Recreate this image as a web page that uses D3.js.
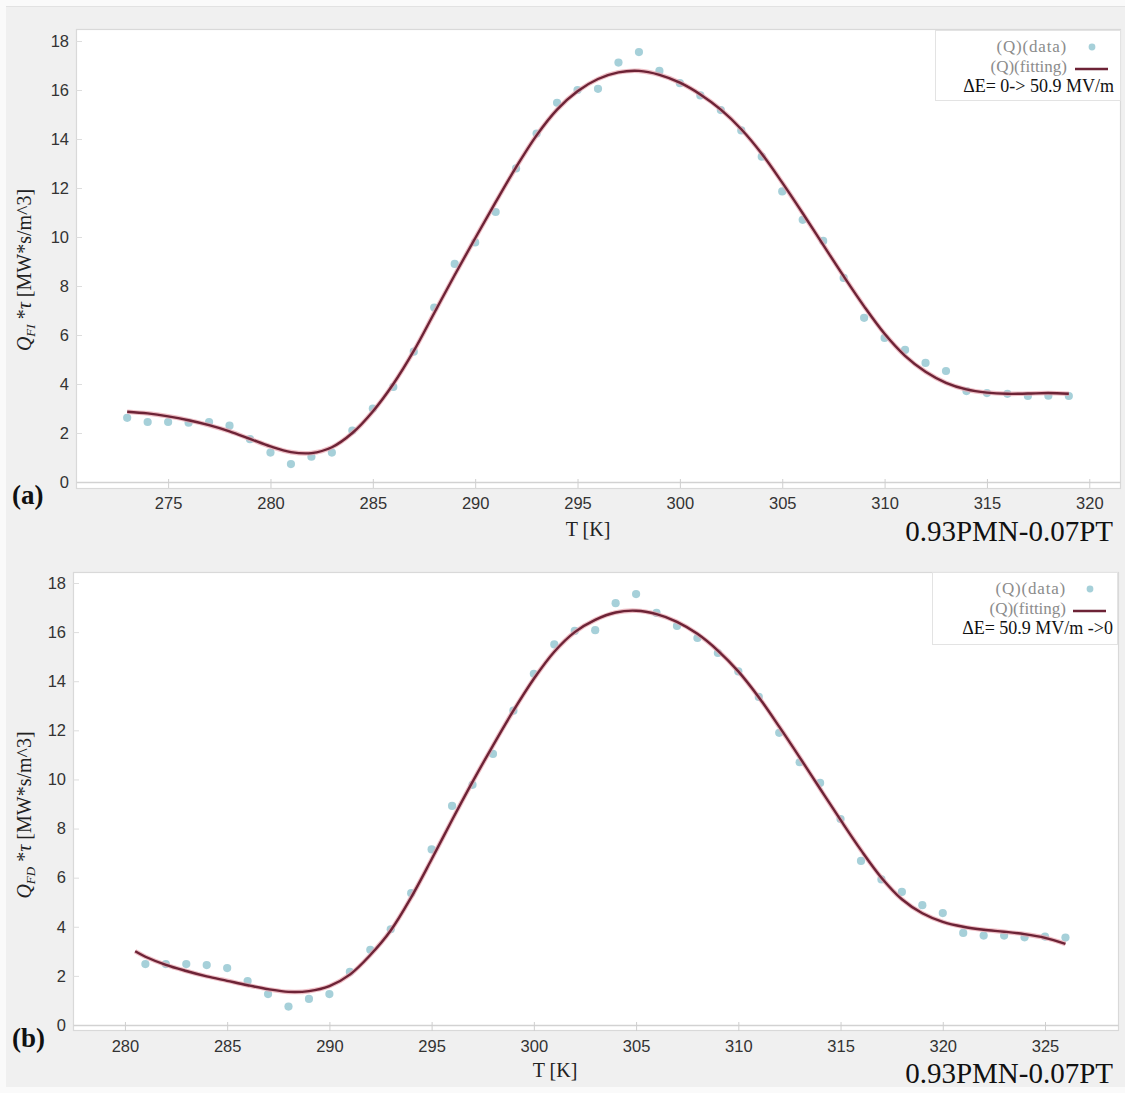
<!DOCTYPE html>
<html>
<head>
<meta charset="utf-8">
<script src="https://cdn.jsdelivr.net/npm/d3@7"></script>
<style>
  html, body { margin: 0; padding: 0; background: #ffffff; }
  svg { display: block; }
</style>
</head>
<body>
<svg id="chart" width="1125" height="1093"></svg>
<script>
// ---- panel (a): field increasing, 0 -> 50.9 MV/m ----
const tempA = [273,274,275,276,277,278,279,280,281,282,283,284,285,286,287,288,289,290,291,292,293,294,295,296,297,298,299,300,301,302,303,304,305,306,307,308,309,310,311,312,313,314,315,316,317,318,319];
const qDataA = [2.62,2.45,2.45,2.42,2.45,2.30,1.75,1.20,0.73,1.03,1.20,2.10,3.00,3.88,5.32,7.12,8.90,9.78,11.02,12.80,14.22,15.48,16.00,16.05,17.12,17.55,16.78,16.28,15.78,15.18,14.35,13.28,11.86,10.70,9.84,8.33,6.70,5.88,5.39,4.86,4.53,3.71,3.63,3.60,3.51,3.52,3.51];
const qFitA = [2.87,2.80,2.68,2.52,2.32,2.07,1.76,1.45,1.22,1.18,1.42,2.00,2.88,4.00,5.35,6.90,8.45,9.95,11.42,12.85,14.15,15.20,15.95,16.45,16.72,16.78,16.62,16.30,15.82,15.20,14.40,13.40,12.22,10.97,9.68,8.40,7.17,6.05,5.15,4.50,4.05,3.78,3.65,3.60,3.61,3.63,3.60];
const xTicksA = [275,280,285,290,295,300,305,310,315,320];

// ---- panel (b): field decreasing, 50.9 MV/m -> 0 ----
const tempB = [281,282,283,284,285,286,287,288,289,290,291,292,293,294,295,296,297,298,299,300,301,302,303,304,305,306,307,308,309,310,311,312,313,314,315,316,317,318,319,320,321,322,323,324,325,326];
const qDataB = [2.48,2.48,2.48,2.44,2.32,1.79,1.26,0.75,1.06,1.26,2.16,3.06,3.90,5.37,7.15,8.92,9.78,11.04,12.80,14.30,15.50,16.05,16.08,17.18,17.55,16.78,16.25,15.76,15.15,14.40,13.36,11.90,10.70,9.86,8.39,6.68,5.93,5.42,4.88,4.56,3.75,3.64,3.64,3.57,3.60,3.56];
const fitTempB = [280.5,281,282,283,284,285,286,287,288,289,290,291,292,293,294,295,296,297,298,299,300,301,302,303,304,305,306,307,308,309,310,311,312,313,314,315,316,317,318,319,320,321,322,323,324,325,326];
const qFitB = [3.00,2.78,2.45,2.20,1.98,1.80,1.62,1.46,1.35,1.38,1.58,2.05,2.85,3.85,5.20,6.75,8.35,9.90,11.38,12.80,14.10,15.20,16.00,16.50,16.80,16.87,16.73,16.42,15.93,15.25,14.40,13.35,12.15,10.90,9.62,8.35,7.12,6.00,5.12,4.55,4.20,4.00,3.88,3.80,3.70,3.55,3.30];
const xTicksB = [280,285,290,295,300,305,310,315,320,325];

const yTicks = [0,2,4,6,8,10,12,14,16,18];
const legendLabels = ["(Q)(data)", "(Q)(fitting)"];
const fieldLabels = ["\u0394E= 0-> 50.9 MV/m", "\u0394E= 50.9 MV/m ->0"];
const sampleName = "0.93PMN-0.07PT";
const xTitle = "T [K]";

const COLORS = {
  bg: "#f0f0f0",
  frame: "#d9d9d9",
  tick: "#333333",
  dot: "#a6d0d9",
  line: "#6d2336",
  glow: "#e7a2ad",
  legendText: "#8c8c8c"
};
const SERIF = "'Liberation Serif', 'Times New Roman', serif";
const SANS = "'Liberation Sans', Arial, sans-serif";

const svg = d3.select("#chart");

// page background
svg.append("rect").attr("x", 0).attr("y", 0).attr("width", 1125).attr("height", 1093).attr("fill", "#fafafa");
svg.append("rect").attr("x", 6).attr("y", 6).attr("width", 1119).attr("height", 1081).attr("fill", COLORS.bg);
svg.append("line").attr("x1", 6).attr("x2", 1125).attr("y1", 6.5).attr("y2", 6.5).attr("stroke", "#e2e2e2");

function drawPanel(p) {
  const g = svg.append("g");
  const x = d3.scaleLinear().domain(p.xDomain).range([p.left, p.right]);
  const y = d3.scaleLinear().domain([0, 18]).range([p.y0, p.y18]);

  // plot area
  g.append("rect")
    .attr("x", p.left + 0.5).attr("y", p.top + 0.5)
    .attr("width", p.right - p.left).attr("height", p.bottom - p.top)
    .attr("fill", "#ffffff").attr("stroke", COLORS.frame).attr("stroke-width", 1.2);

  // y axis (ticks pointing inward)
  const yAxis = d3.axisLeft(y).tickValues(yTicks).tickSizeInner(-6).tickSizeOuter(0).tickPadding(7);
  const ya = g.append("g").attr("transform", `translate(${p.left},0)`).call(yAxis);
  ya.select(".domain").remove();
  ya.selectAll(".tick line").attr("stroke", "#dddddd");
  ya.selectAll(".tick text").attr("fill", COLORS.tick).style("font", `16.5px ${SANS}`);

  // x axis along the zero line
  const xAxis = d3.axisBottom(x).tickValues(p.xTicks).tickSizeInner(6).tickSizeOuter(0).tickPadding(9);
  const xa = g.append("g").attr("transform", `translate(0,${p.y0})`).call(xAxis);
  xa.select(".domain").attr("stroke", "#d2d2d2").attr("stroke-width", 1.4);
  xa.selectAll(".tick line").attr("stroke", "#cfcfcf").attr("y1", -3);
  xa.selectAll(".tick text").attr("fill", COLORS.tick).style("font", `16.5px ${SANS}`);

  // measured points
  g.append("g").selectAll("circle")
    .data(p.temps.map((t, i) => [t, p.data[i]]))
    .join("circle")
    .attr("cx", d => x(d[0])).attr("cy", d => y(d[1]))
    .attr("r", 4.1).attr("fill", COLORS.dot);

  // fitted curve with a soft reddish halo
  const line = d3.line().x(d => x(d[0])).y(d => y(d[1])).curve(d3.curveCatmullRom.alpha(0.5));
  const fitPts = p.fitTemps.map((t, i) => [t, p.fit[i]]);
  g.append("path").datum(fitPts).attr("d", line)
    .attr("fill", "none").attr("stroke", COLORS.glow).attr("stroke-width", 4.6).attr("stroke-opacity", 0.7);
  g.append("path").datum(fitPts).attr("d", line)
    .attr("fill", "none").attr("stroke", COLORS.line).attr("stroke-width", 2.4);

  // legend
  const L = p.legend;
  g.append("rect").attr("x", L.x + 0.5).attr("y", L.y + 0.5).attr("width", L.w).attr("height", L.h)
    .attr("fill", "#ffffff").attr("stroke", "#e3e3e3");
  g.append("text").attr("x", L.textRight).attr("y", L.y + 22).attr("text-anchor", "end")
    .attr("fill", COLORS.legendText).style("font", `17px ${SERIF}`).attr("letter-spacing", 0.8).text(legendLabels[0]);
  g.append("circle").attr("cx", L.markX).attr("cy", L.y + 17).attr("r", 3.4).attr("fill", COLORS.dot);
  g.append("text").attr("x", L.textRight).attr("y", L.y + 42).attr("text-anchor", "end")
    .attr("fill", COLORS.legendText).style("font", `17px ${SERIF}`).text(legendLabels[1]);
  g.append("line").attr("x1", L.markX - 17).attr("x2", L.markX + 16).attr("y1", L.y + 39).attr("y2", L.y + 39)
    .attr("stroke", COLORS.line).attr("stroke-width", 2.4);
  g.append("text").attr("x", L.fieldRight).attr("y", L.y + 62).attr("text-anchor", "end")
    .attr("fill", "#111111").style("font", `18px ${SERIF}`).text(p.field);

  // axis titles and panel annotations
  g.append("text").attr("x", p.xTitleX).attr("y", p.xTitleY).attr("text-anchor", "middle")
    .attr("fill", "#222222").style("font", `20px ${SERIF}`).text(xTitle);
  g.append("text").attr("x", 1113).attr("y", p.sampleY).attr("text-anchor", "end")
    .attr("fill", "#111111").style("font", `29px ${SERIF}`).text(sampleName);
  g.append("text").attr("x", 12).attr("y", p.tagY)
    .attr("fill", "#111111").style("font", `bold 27px ${SERIF}`).text(p.tag);

  const yl = g.append("text")
    .attr("transform", `translate(${31},${p.yTitleY}) rotate(-90)`)
    .attr("text-anchor", "middle").attr("fill", "#222222").style("font", `20px ${SERIF}`);
  yl.append("tspan").style("font-style", "italic").text("Q");
  yl.append("tspan").style("font-style", "italic").style("font-size", "13px").attr("dy", 4).text(p.sub);
  yl.append("tspan").attr("dy", -4).text(" *");
  yl.append("tspan").style("font-style", "italic").text("\u03C4");
  yl.append("tspan").text(" [MW*s/m^3]");
}

drawPanel({
  left: 76, right: 1120, top: 29, bottom: 488,
  y0: 482, y18: 41,
  xDomain: [270.5, 321.5], xTicks: xTicksA,
  temps: tempA, data: qDataA, fitTemps: tempA, fit: qFitA,
  legend: { x: 935, y: 30, w: 185, h: 70, textRight: 1067, markX: 1092, fieldRight: 1114 },
  field: fieldLabels[0],
  xTitleX: 588, xTitleY: 536, sampleY: 541, tag: "(a)", tagY: 504,
  yTitleY: 270, sub: "FI"
});

drawPanel({
  left: 73, right: 1118, top: 572, bottom: 1030,
  y0: 1025, y18: 583,
  xDomain: [277.46, 328.57], xTicks: xTicksB,
  temps: tempB, data: qDataB, fitTemps: fitTempB, fit: qFitB,
  legend: { x: 932, y: 572, w: 185, h: 72, textRight: 1066, markX: 1090, fieldRight: 1113 },
  field: fieldLabels[1],
  xTitleX: 555, xTitleY: 1077, sampleY: 1083, tag: "(b)", tagY: 1047,
  yTitleY: 815, sub: "FD"
});
</script>
</body>
</html>
